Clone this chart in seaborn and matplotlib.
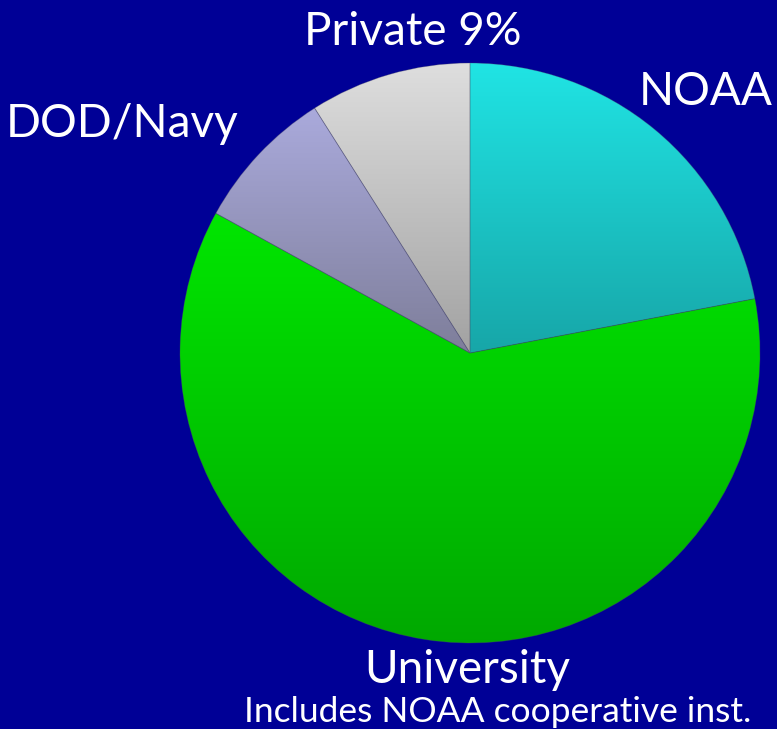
import numpy as np
import seaborn as sns
import matplotlib.pyplot as plt
from matplotlib.colors import LinearSegmentedColormap

# data
labels = ['NOAA', 'University', 'DOD/Navy', 'Private 9%']
shares = [22, 61, 8, 9]
top_colors = ['#20e4e4', '#00e600', '#aaaadc', '#dedede']
bottom_colors = ['#17a6a8', '#00a800', '#7e7e9a', '#a2a2a2']
note = 'Includes NOAA cooperative inst.'

bg = '#000096'
sns.set_theme(style='white')
plt.rcParams['font.family'] = ['Lato', 'DejaVu Sans']

fig = plt.figure(figsize=(7.77, 7.29), dpi=100, facecolor=bg)
ax = fig.add_axes([0, 0, 1, 1])
ax.set_facecolor(bg)

# pie in pixel coordinates (y up)
cx, cy, r = 470, 729 - 353, 290
wedges, _ = ax.pie(shares, startangle=90, counterclock=False,
                   center=(cx, cy), radius=r, frame=True,
                   wedgeprops=dict(linewidth=0, edgecolor='none'))
ax.set_xlim(0, 777)
ax.set_ylim(0, 729)
ax.set_aspect('equal')
ax.axis('off')

# vertical gradient fill for each wedge, clipped to the wedge shape
for w, c1, c2 in zip(wedges, top_colors, bottom_colors):
    w.set_facecolor('none')
    verts = w.get_path().vertices
    x0, x1 = verts[:, 0].min(), verts[:, 0].max()
    y0, y1 = verts[:, 1].min(), verts[:, 1].max()
    cmap = LinearSegmentedColormap.from_list('g', [c2, c1])
    grad = np.linspace(0, 1, 256).reshape(-1, 1)
    im = ax.imshow(grad, cmap=cmap, origin='lower', aspect='auto',
                   extent=(x0, x1, y0, y1), interpolation='bilinear', zorder=1)
    im.set_clip_path(w)

# thin slice borders like the slide
for w in wedges:
    w.set_edgecolor((0.3, 0.3, 0.4, 0.35))
    w.set_linewidth(0.6)
    w.set_zorder(2)

txt = dict(color='white', va='baseline', fontsize=33)
ax.text(773, 729 - 105, labels[0], ha='right', **txt)
ax.text(467, 729 - 683, labels[1], ha='center', **txt)
ax.text(122, 729 - 137, labels[2], ha='center', **txt)
ax.text(413, 729 - 45, labels[3], ha='center', **txt)
ax.text(498, 729 - 722, note, color='white', ha='center', va='baseline', fontsize=25.5)

fig.savefig('out.png', dpi=100, facecolor=bg)
